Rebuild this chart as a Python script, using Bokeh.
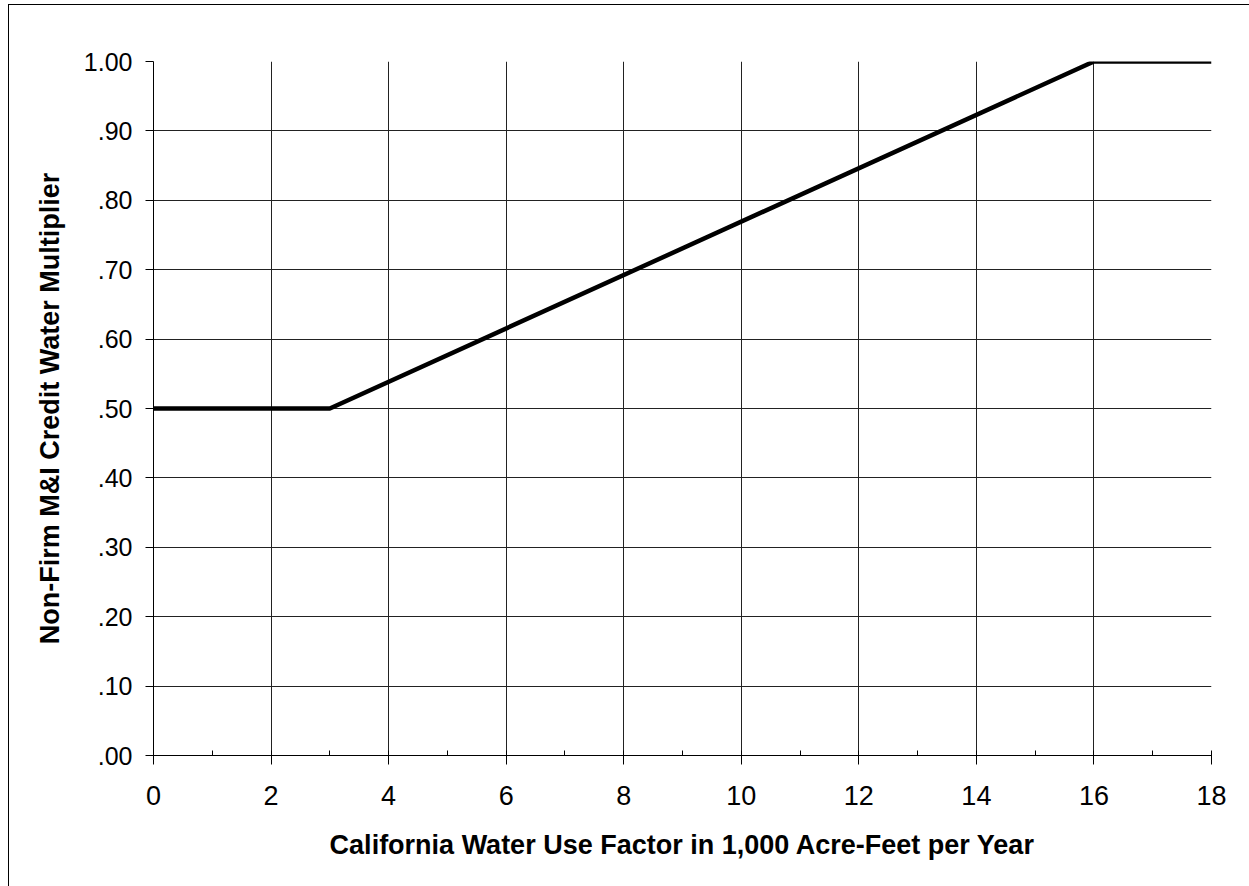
from bokeh.plotting import figure
from bokeh.models import FixedTicker, Range1d
from bokeh.embed import file_html
from bokeh.resources import INLINE

# Data
x_vals = [0, 3, 16, 18]
y_vals = [0.50, 0.50, 1.00, 1.00]
x_ticks = [0, 2, 4, 6, 8, 10, 12, 14, 16, 18]
x_minor = [1, 3, 5, 7, 9, 11, 13, 15, 17]
y_ticks = [0.0, 0.1, 0.2, 0.3, 0.4, 0.5, 0.6, 0.7, 0.8, 0.9, 1.0]
y_tick_labels = [".00", ".10", ".20", ".30", ".40", ".50", ".60", ".70", ".80", ".90", "1.00"]

FONT = "Liberation Sans"

p = figure(width=1241, height=882, output_backend="svg", toolbar_location=None,
           x_range=Range1d(0, 18), y_range=Range1d(0, 1.0),
           min_border_left=144, min_border_top=56, min_border_right=39, min_border_bottom=132)
p.margin = (4, 0, 0, 8)
p.styles = {"border-left": "1px solid black", "border-top": "1px solid black"}
p.outline_line_color = None
p.background_fill_color = "white"

p.line(x_vals, y_vals, line_color="black", line_width=4.5)

p.xaxis.ticker = FixedTicker(ticks=x_ticks, minor_ticks=x_minor)
p.yaxis.ticker = FixedTicker(ticks=y_ticks, minor_ticks=[])
p.yaxis.major_label_overrides = {t: l for t, l in zip(y_ticks, y_tick_labels)}
p.xaxis.major_label_overrides = {t: str(t) for t in x_ticks}

for ax in (p.xaxis[0], p.yaxis[0]):
    ax.axis_line_color = "black"
    ax.axis_line_width = 1
    ax.major_tick_line_color = "black"
    ax.minor_tick_line_color = "black"
    ax.major_label_text_font = FONT
    ax.major_label_text_color = "black"
    ax.axis_label_text_font = FONT
    ax.axis_label_text_font_size = "27px"
    ax.axis_label_text_font_style = "bold"
    ax.axis_label_text_color = "black"

p.xaxis.major_label_text_font_size = "27px"
p.yaxis.major_label_text_font_size = "25px"

p.xaxis.axis_label = "California Water Use Factor in 1,000 Acre-Feet per Year"
p.yaxis.axis_label = "Non-Firm M&I Credit Water Multiplier"

p.xaxis.major_tick_in = 5
p.xaxis.major_tick_out = 9
p.xaxis.minor_tick_in = 5
p.xaxis.minor_tick_out = 0
p.xaxis.major_label_standoff = 21
p.xaxis.axis_label_standoff = 22

p.yaxis.major_tick_in = 0
p.yaxis.major_tick_out = 8
p.yaxis.major_label_standoff = 13
p.yaxis.axis_label_standoff = 16

p.xgrid.ticker = FixedTicker(ticks=x_ticks)
p.ygrid.ticker = FixedTicker(ticks=y_ticks)
p.grid.grid_line_color = "#222222"
p.grid.grid_line_width = 1
p.grid.grid_line_alpha = 1.0

open("out.html", "w").write(file_html(p, INLINE))
